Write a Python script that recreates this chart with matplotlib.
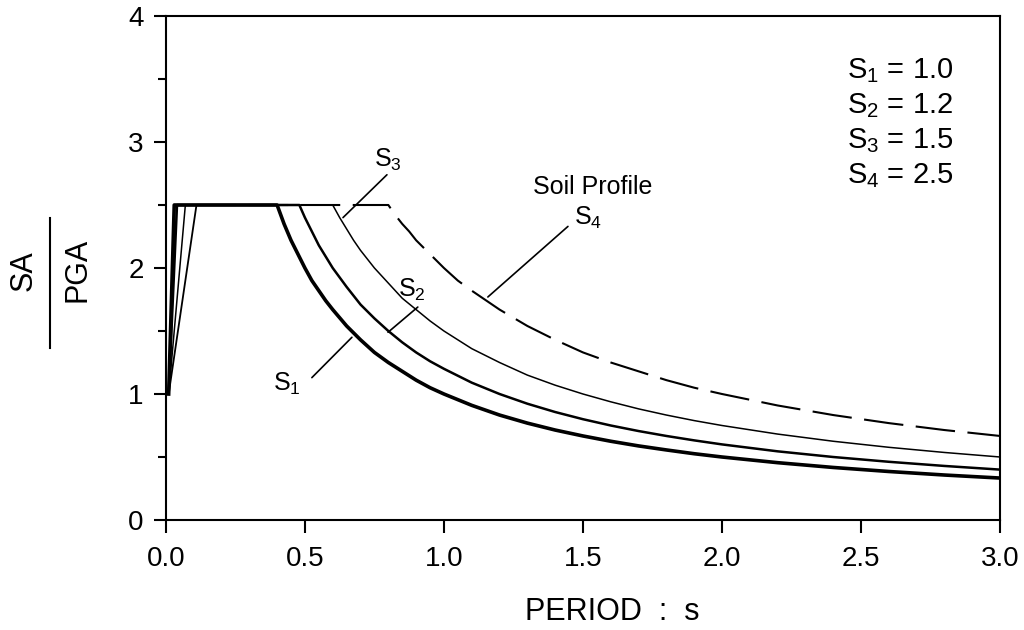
import matplotlib.pyplot as plt

plt.rcParams['font.family'] = ['Liberation Sans', 'DejaVu Sans']
plt.rcParams['mathtext.fontset'] = 'custom'
plt.rcParams['mathtext.rm'] = 'Liberation Sans'
plt.rcParams['mathtext.it'] = 'Liberation Sans'
plt.rcParams['mathtext.default'] = 'regular'

# readings (period in s, SA/PGA)
t_s1 = [0.01, 0.03, 0.40, 0.425, 0.45, 0.475, 0.50, 0.525, 0.55, 0.575, 0.60, 0.65,
        0.70, 0.75, 0.80, 0.85, 0.90, 0.95, 1.00, 1.10, 1.20, 1.30, 1.40, 1.50,
        1.60, 1.70, 1.80, 1.90, 2.00, 2.20, 2.40, 2.60, 2.80, 3.00]
sa_s1 = [1.0, 2.5, 2.5, 2.35, 2.22, 2.11, 2.0, 1.90, 1.82, 1.74, 1.67, 1.54,
         1.43, 1.33, 1.25, 1.18, 1.11, 1.05, 1.0, 0.91, 0.833, 0.769, 0.714, 0.667,
         0.625, 0.588, 0.556, 0.526, 0.5, 0.455, 0.417, 0.385, 0.357, 0.333]

t_s2 = [0.01, 0.04, 0.48, 0.50, 0.525, 0.55, 0.575, 0.60, 0.65, 0.70, 0.75, 0.80,
        0.85, 0.90, 0.95, 1.00, 1.10, 1.20, 1.30, 1.40, 1.50, 1.60, 1.70, 1.80,
        1.90, 2.00, 2.20, 2.40, 2.60, 2.80, 3.00]
sa_s2 = [1.0, 2.5, 2.5, 2.40, 2.29, 2.18, 2.09, 2.0, 1.85, 1.71, 1.60, 1.50,
         1.41, 1.33, 1.26, 1.20, 1.09, 1.0, 0.923, 0.857, 0.80, 0.75, 0.706, 0.667,
         0.632, 0.60, 0.545, 0.50, 0.462, 0.429, 0.40]

t_s3 = [0.01, 0.07, 0.60, 0.625, 0.65, 0.675, 0.70, 0.75, 0.80, 0.85, 0.90, 0.95,
        1.00, 1.10, 1.20, 1.30, 1.40, 1.50, 1.60, 1.70, 1.80, 1.90, 2.00, 2.20,
        2.40, 2.60, 2.80, 3.00]
sa_s3 = [1.0, 2.5, 2.5, 2.40, 2.31, 2.22, 2.14, 2.0, 1.88, 1.76, 1.67, 1.58,
         1.50, 1.36, 1.25, 1.15, 1.07, 1.0, 0.938, 0.882, 0.833, 0.789, 0.75, 0.682,
         0.625, 0.577, 0.536, 0.50]

t_s4 = [0.01, 0.11, 0.80, 0.825, 0.85, 0.875, 0.90, 0.95, 1.00, 1.05, 1.10, 1.20,
        1.30, 1.40, 1.50, 1.60, 1.70, 1.80, 1.90, 2.00, 2.20, 2.40, 2.60, 2.80, 3.00]
sa_s4 = [1.0, 2.5, 2.5, 2.42, 2.35, 2.29, 2.22, 2.11, 2.0, 1.90, 1.82, 1.67,
         1.54, 1.43, 1.33, 1.25, 1.18, 1.11, 1.05, 1.0, 0.909, 0.833, 0.769, 0.714, 0.667]

legend_lines = ['$S_1$ = 1.0', '$S_2$ = 1.2', '$S_3$ = 1.5', '$S_4$ = 2.5']

x_ticks = [0.0, 0.5, 1.0, 1.5, 2.0, 2.5, 3.0]
y_ticks = [0, 1, 2, 3, 4]
y_minor = [0.5, 1.5, 2.5, 3.5]

fig = plt.figure(figsize=(10.24, 6.3), dpi=100)
ax = fig.add_axes([0.162, 0.1746, 0.8146, 0.80])

ax.plot(t_s1, sa_s1, color='black', lw=2.6, solid_joinstyle='round', zorder=5)
ax.plot(t_s2, sa_s2, color='black', lw=1.8, solid_joinstyle='round', zorder=4)
ax.plot(t_s3, sa_s3, color='black', lw=1.1, solid_joinstyle='round', zorder=4)
ax.plot(t_s4[:2], sa_s4[:2], color='black', lw=1.3, zorder=3)
ax.plot(t_s4[1:], sa_s4[1:], color='black', lw=1.5, dashes=(19, 6), zorder=3)

ax.set_xlim(0, 3.0)
ax.set_ylim(0, 4)
ax.set_xticks(x_ticks)
ax.set_xticklabels([f'{v:.1f}' for v in x_ticks])
ax.set_yticks(y_ticks)
ax.set_yticks(y_minor, minor=True)

for s in ax.spines.values():
    s.set_linewidth(1.5)
ax.tick_params(axis='both', which='major', direction='out', length=9, width=1.5,
               labelsize=20, pad=7)
ax.tick_params(axis='x', which='major', pad=10)
ax.tick_params(axis='y', which='minor', direction='out', length=5.5, width=1.5)
ax.tick_params(axis='x', which='minor', length=0)

# curve labels with leader lines
ann = dict(arrowprops=dict(arrowstyle='-', color='black', lw=1.2,
                           shrinkA=0, shrinkB=0))
ax.annotate('', xy=(0.637, 2.40), xytext=(0.795, 2.74), **ann)
ax.text(0.80, 2.86, '$S_3$', fontsize=18, ha='center', va='center')
ax.annotate('', xy=(0.799, 1.49), xytext=(0.906, 1.69), **ann)
ax.text(0.885, 1.83, '$S_2$', fontsize=18, ha='center', va='center')
ax.annotate('', xy=(0.525, 1.13), xytext=(0.669, 1.45), **ann)
ax.text(0.435, 1.08, '$S_1$', fontsize=18, ha='center', va='center')
ax.annotate('', xy=(1.158, 1.77), xytext=(1.446, 2.33), **ann)
ax.text(1.518, 2.40, '$S_4$', fontsize=18, ha='center', va='center')
ax.text(1.536, 2.64, 'Soil Profile', fontsize=18, ha='center', va='center')

# factor list, top right
for i, line in enumerate(legend_lines):
    fig.text(847 / 1024, 1 - (71 + 35 * i) / 630, line, fontsize=21,
             ha='left', va='center')

# axis labels
fig.text(612 / 1024, 1 - 612 / 630, 'PERIOD  :  s', fontsize=22,
         ha='center', va='center')
fig.text(24 / 1024, 1 - 271 / 630, 'SA', fontsize=22, rotation=90,
         ha='center', va='center')
fig.text(78 / 1024, 1 - 270 / 630, 'PGA', fontsize=22, rotation=90,
         ha='center', va='center')
fig.add_artist(plt.Line2D([50 / 1024, 50 / 1024], [1 - 348 / 630, 1 - 218 / 630],
                          color='black', lw=1.5))

fig.savefig('out.png', dpi=100)
